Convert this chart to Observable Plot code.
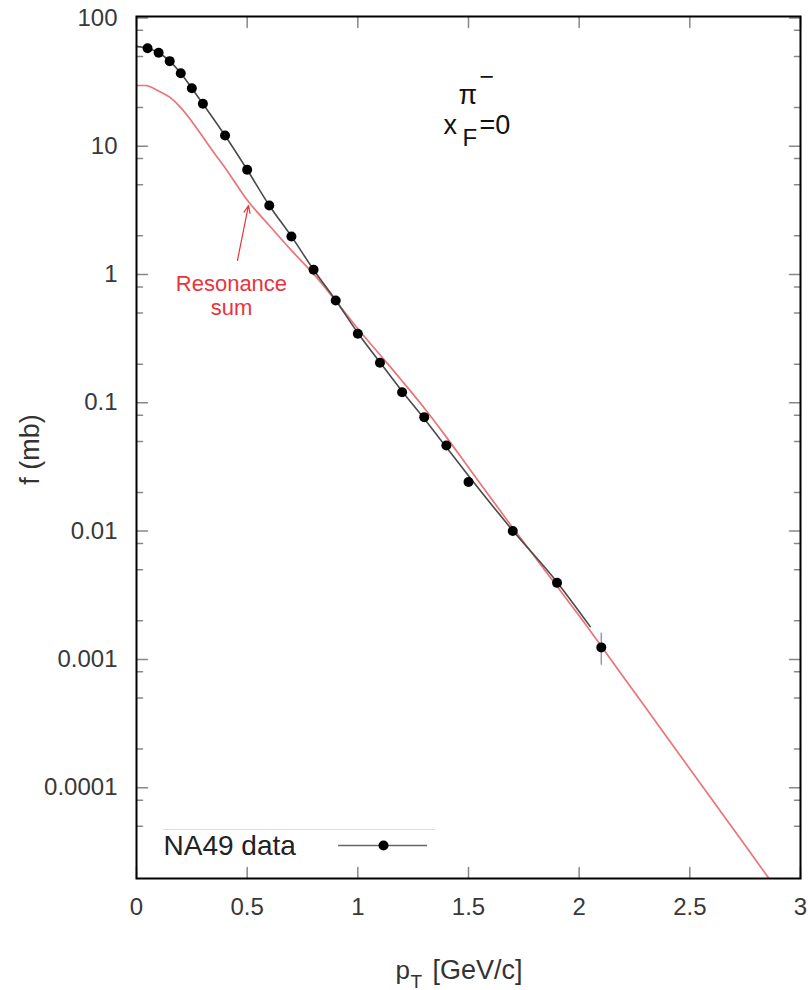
<!DOCTYPE html>
<html><head><meta charset="utf-8">
<script src="https://cdn.jsdelivr.net/npm/d3@7"></script>
<script src="https://cdn.jsdelivr.net/npm/@observablehq/plot@0.6"></script>
<style>
body{margin:0;background:#fff;}
#chart svg{display:block;}
</style></head><body><div id="chart"></div>
<script>
// NA49 data points (pT in GeV/c, f in mb)
const dataPT = [0.05,0.1,0.15,0.2,0.25,0.3,0.4,0.5,0.6,0.7,0.8,0.9,1.0,1.1,1.2,1.3,1.4,1.5,1.7,1.9,2.1];
const dataF  = [58,53.5,46,37,28.3,21.4,12.1,6.55,3.45,1.98,1.088,0.627,0.345,0.205,0.121,0.0773,0.0465,0.0241,0.0100,0.00395,0.00124];
// error bar (visible only on last point)
const errPT = [2.1];
const errLo = [0.0009];
const errHi = [0.0016];
// fit curve through data (black)
const fitPT = [0,0.05,0.1,0.15,0.2,0.25,0.3,0.4,0.5,0.6,0.7,0.8,0.9,1.0,1.1,1.2,1.3,1.4,1.5,1.7,1.9,2.05];
const fitF  = [60,58,53.5,46,37,28.3,21.4,12.1,6.55,3.45,1.98,1.09,0.63,0.35,0.207,0.123,0.075,0.045,0.027,0.0101,0.0040,0.0018];
// resonance sum (red)
const resPT = [0,0.04,0.1,0.15,0.2,0.25,0.3,0.35,0.4,0.5,0.6,0.7,0.8,0.9,1.0,1.1,1.2,1.3,1.4,1.5,1.6,1.7,1.8,1.9,2.0,2.2,2.4,2.6,2.8,2.9];
const resF  = [29.7,29.7,26.9,24.1,20.0,15.6,11.8,8.9,6.8,3.8,2.41,1.54,1.01,0.624,0.378,0.237,0.148,0.091,0.054,0.0313,0.0182,0.0106,0.00627,0.00371,0.00219,0.00073,0.000243,0.000081,0.0000269,0.0000155];

// axes
const xDomain = [0, 3];
const yDomain = [1.96e-5, 102.5];
const majorX = [0,0.5,1,1.5,2,2.5,3];
const majorXLabels = ["0","0.5","1","1.5","2","2.5","3"];
const majorY = [1e-4,1e-3,1e-2,0.1,1,10,100];
const majorYLabels = ["0.0001","0.001","0.01","0.1","1","10","100"];
const minorMult = [2,5,8];
const minorY = [];
for (const d of [1e-5,1e-4,1e-3,1e-2,0.1,1,10]) for (const m of minorMult) { const v = d*m; if (v > yDomain[0]*1.05 && v < yDomain[1]) minorY.push(v); }

// annotations (data coordinates)
const legendText = "NA49 data";
const legendPos = {textX: 0.122, lineX1: 0.913, lineX2: 1.315, dotX: 1.116, y: 3.54e-5, ruleX1: 0.122, ruleX2: 1.351, ruleY: 4.72e-5};
const resLabel = {x: 0.429, line1: "Resonance", y1: 0.75, line2: "sum", y2: 0.48};
const arrowPos = {x1: 0.456, y1: 1.285, x2: 0.506, y2: 3.45};
const partLabel = {x: 1.455, y: 21.5};
const yLabelPos = 0.0432;

const FONT = "'Liberation Sans', Arial, Helvetica, sans-serif";
const fit = fitPT.map((x,i)=>({x, y: fitF[i]}));
const res = resPT.map((x,i)=>({x, y: resF[i]}));
const pts = dataPT.map((x,i)=>({x, y: dataF[i]}));
const errs = errPT.map((x,i)=>({x, lo: errLo[i], hi: errHi[i]}));

const tickShape = {draw(ctx, l){ ctx.moveTo(0,0); ctx.lineTo(0,-l); }};
const tk = (data, opts, len) => Plot.vector(data, {...opts, length: len, anchor: "start", shape: tickShape, stroke: "#888", strokeWidth: 1.5});

const chart = Plot.plot({
  width: 808, height: 990,
  marginLeft: 136, marginRight: 8, marginTop: 16, marginBottom: 112,
  style: {fontFamily: FONT, background: "#fff", overflow: "visible"},
  x: {domain: xDomain, axis: null},
  y: {type: "log", domain: yDomain, axis: null},
  marks: [
    // ticks
    tk(majorY, {y: d=>d, frameAnchor: "left", rotate: 90}, 11),
    tk(minorY, {y: d=>d, frameAnchor: "left", rotate: 90}, 6),
    tk(majorY, {y: d=>d, frameAnchor: "right", rotate: -90}, 11),
    tk(minorY, {y: d=>d, frameAnchor: "right", rotate: -90}, 6),
    tk(majorX, {x: d=>d, frameAnchor: "bottom", rotate: 0}, 11),
    tk(majorX, {x: d=>d, frameAnchor: "top", rotate: 180}, 11),
    // tick labels
    Plot.text(majorY, {y: d=>d, frameAnchor: "left", text: (d,i)=>majorYLabels[i], textAnchor: "end", lineAnchor: "middle", dx: -19, fontSize: 24, fill: "#383838"}),
    Plot.text(majorX, {x: d=>d, frameAnchor: "bottom", text: (d,i)=>majorXLabels[i], textAnchor: "middle", lineAnchor: "top", dy: 19, fontSize: 24, fill: "#383838"}),
    // resonance sum
    Plot.line(res, {x: "x", y: "y", stroke: "#ea7479", strokeWidth: 1.7, clip: true, curve: "monotone-x"}),
    // fit line
    Plot.line(fit, {x: "x", y: "y", stroke: "#4a4a4a", strokeWidth: 1.6, curve: "monotone-x"}),
    // error bars
    Plot.ruleX(errs, {x: "x", y1: "lo", y2: "hi", stroke: "#999", strokeWidth: 1.5}),
    // data points
    Plot.dot(pts, {x: "x", y: "y", r: 5, fill: "#000"}),
    // resonance label + arrow
    Plot.text([resLabel], {x: "x", y: "y1", text: "line1", textAnchor: "middle", lineAnchor: "bottom", fontSize: 22, fill: "#e8343c"}),
    Plot.text([resLabel], {x: "x", y: "y2", text: "line2", textAnchor: "middle", lineAnchor: "bottom", fontSize: 22, fill: "#e8343c"}),
    Plot.arrow([arrowPos], {x1: "x1", y1: "y1", x2: "x2", y2: "y2", stroke: "#e8343c", strokeWidth: 1.2, headLength: 10, headAngle: 45}),
    // particle label
    Plot.text([partLabel], {x: "x", y: "y", text: ()=>"π", textAnchor: "start", lineAnchor: "bottom", fontSize: 27, fill: "#111"}),
    Plot.text([partLabel], {x: "x", y: "y", text: ()=>"\u2212", textAnchor: "start", lineAnchor: "bottom", fontSize: 25, dx: 21, dy: -19, fill: "#111"}),
    Plot.text([partLabel], {x: "x", y: "y", text: ()=>"x", textAnchor: "start", lineAnchor: "bottom", fontSize: 27, dx: -15, dy: 30, fill: "#111"}),
    Plot.text([partLabel], {x: "x", y: "y", text: ()=>"F", textAnchor: "start", lineAnchor: "bottom", fontSize: 24, dx: 4, dy: 42, fill: "#111"}),
    Plot.text([partLabel], {x: "x", y: "y", text: ()=>"=0", textAnchor: "start", lineAnchor: "bottom", fontSize: 27, dx: 21, dy: 30, fill: "#111"}),
    // legend
    Plot.ruleY([legendPos], {x1: "ruleX1", x2: "ruleX2", y: "ruleY", stroke: "#ddd", strokeWidth: 1}),
    Plot.text([legendPos], {x: "textX", y: "y", text: ()=>legendText, textAnchor: "start", lineAnchor: "middle", fontSize: 28, fill: "#222"}),
    Plot.ruleY([legendPos], {x1: "lineX1", x2: "lineX2", y: "y", stroke: "#666", strokeWidth: 1.5}),
    Plot.dot([legendPos], {x: "dotX", y: "y", r: 5, fill: "#000"}),
    // axis titles
    Plot.text([yLabelPos], {y: d=>d, frameAnchor: "left", text: ()=>"f (mb)", rotate: -90, textAnchor: "middle", lineAnchor: "middle", dx: -106, fontSize: 27, fill: "#333"}),
    Plot.text([1.17], {x: d=>d, frameAnchor: "bottom", text: ()=>"p", textAnchor: "start", lineAnchor: "bottom", dy: 100, fontSize: 26, fill: "#333"}),
    Plot.text([1.17], {x: d=>d, frameAnchor: "bottom", text: ()=>"T", textAnchor: "start", lineAnchor: "bottom", dx: 15, dy: 109, fontSize: 19, fill: "#333"}),
    Plot.text([1.17], {x: d=>d, frameAnchor: "bottom", text: ()=>"[GeV/c]", textAnchor: "start", lineAnchor: "bottom", dx: 37, dy: 100, fontSize: 27, fill: "#333"}),
    // frame
    Plot.frame({stroke: "#000", strokeWidth: 2})
  ]
});
document.getElementById("chart").appendChild(chart);
</script>
</body></html>
